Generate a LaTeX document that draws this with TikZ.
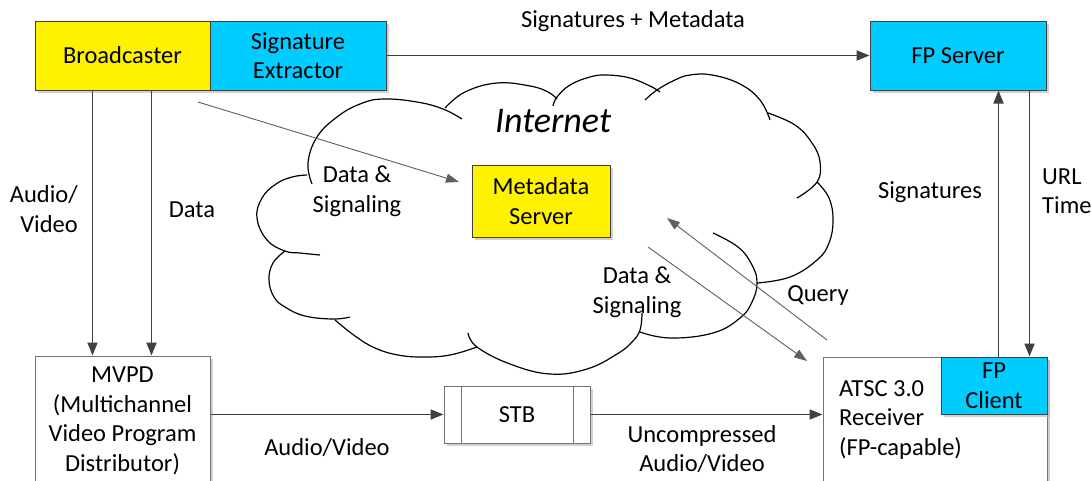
\documentclass[tikz,border=0pt]{standalone}
\usepackage{fontspec}
\setmainfont{Carlito}
\usetikzlibrary{arrows.meta,shadows}
\definecolor{cyanbox}{RGB}{0,204,255}
\definecolor{linegray}{RGB}{64,64,64}
\definecolor{thingray}{RGB}{95,95,95}
\begin{document}
\begin{tikzpicture}[x=1pt,y=-1pt,
  font=\fontsize{24.5}{29.5}\selectfont,
  box/.style={draw=linegray, line width=1pt, inner sep=0pt, align=center,
    drop shadow={shadow xshift=2.5pt,shadow yshift=-2.5pt,fill=black!30,opacity=0.6}},
  wbox/.style={box, draw=black!55, fill=white},
  thickarrow/.style={draw=linegray,line width=1.8pt,-{Triangle[length=13pt,width=10pt]}},
  thinarrow/.style={draw=thingray,line width=0.9pt,-{Triangle[length=13pt,width=9pt]}},
  lbl/.style={inner sep=0pt, align=center},
  cloudline/.style={draw=black,line width=1.2pt},
]
\useasboundingbox (0,0) rectangle (1091,480);
\clip (0,0) rectangle (1091,480);
\fill[white] (0,0) rectangle (1091,480);

% cloud
\begin{scope}[cloudline]
\draw plot[smooth,tension=0.7] coordinates {(320,255) (300,253) (285,251) (267,240) (257,218) (262,198) (276,184) (292,177) (307,175)};
\draw plot[smooth,tension=0.7] coordinates {(312,184) (308,163) (317,137) (337,117) (360,104) (383,99) (417,102) (443,109) (462,119)};
\draw plot[smooth,tension=0.7] coordinates {(445,108) (465,92) (497,83) (530,86) (548,92) (557,99)};
\draw plot[smooth,tension=0.7] coordinates {(553,106) (557,97) (570,85) (590,77) (607,75) (630,78) (650,86) (660,92)};
\draw plot[smooth,tension=0.7] coordinates {(645,100) (657,90) (675,80) (690,75) (712,75) (740,84) (760,100) (770,120)};
\draw plot[smooth,tension=0.7] coordinates {(768,113) (795,125) (812,143) (820,162) (817,182) (797,198)};
\draw plot[smooth,tension=0.7] coordinates {(817,182) (829,198) (833,220) (829,243) (817,260) (790,277) (757,283)};
\draw plot[smooth,tension=0.7] coordinates {(713,233) (738,247) (752,265) (757,283) (752,302) (740,318) (713,333) (670,338) (640,332)};
\draw plot[smooth,tension=0.7] coordinates {(642,313) (640,330) (632,342) (617,354) (587,369) (550,374) (510,364) (477,347) (468,333)};
\draw plot[smooth,tension=0.7] coordinates {(477,347) (450,355) (423,357) (398,355) (375,348) (355,336) (335,320)};
\draw plot[smooth,tension=0.7] coordinates {(285,251) (273,263) (269,280) (274,297) (285,307) (305,316) (333,319) (350,317)};
\end{scope}
\node[lbl,font=\fontsize{36}{40}\selectfont\itshape] (inet) at (553,121) {Internet};

% boxes
\node[box,fill=yellow,minimum width=175pt,minimum height=69pt] (bc) at (122.5,55.5) {Broadcaster};
\node[box,fill=cyanbox,minimum width=176pt,minimum height=69pt] (se) at (298,55.5) {Signature\\Extractor};
\node[box,fill=cyanbox,minimum width=176pt,minimum height=69pt] (fps) at (958,55.5) {FP Server};
\node[box,fill=yellow,minimum width=138pt,minimum height=72pt] (ms) at (541,201) {Metadata\\Server};
\node[wbox,minimum width=175pt,minimum height=130pt] (mvpd) at (122.5,421) {MVPD\\(Multichannel\\Video Program\\Distributor)};
\node[wbox,minimum width=146pt,minimum height=57pt] (stb) at (517,414.5) {STB};
\draw[draw=black!55,line width=1pt] ([xshift=18pt]stb.north west) -- ([xshift=18pt]stb.south west)
  ([xshift=-17pt]stb.north east) -- ([xshift=-17pt]stb.south east);
\node[wbox,minimum width=224pt,minimum height=130pt] (atsc) at (935,422) {};
\node[lbl,anchor=west,align=left] (atsctext) at (839,420) {ATSC 3.0\\Receiver\\(FP-capable)};
\node[box,fill=cyanbox,minimum width=106pt,minimum height=57pt] (fpc) at (994,385.5) {FP\\Client};

% thick connectors
\draw[thickarrow] (se) -- (fps);
\draw[thickarrow] ([xshift=58pt]bc.south west) -- ([xshift=58pt]mvpd.north west);
\draw[thickarrow] ([xshift=117pt]bc.south west) -- ([xshift=117pt]mvpd.north west);
\draw[thickarrow] (mvpd.east |- stb.west) -- (stb.west);
\draw[thickarrow] (stb.east) -- (stb.east -| atsc.west);
\draw[thickarrow] ([xshift=58pt]fpc.north west) -- ([xshift=58pt]fpc.north west |- fps.south);
\draw[thickarrow] ([xshift=-17pt]fps.south east) -- ([xshift=-17pt]fps.south east |- fpc.north);

% thin connectors
\coordinate (d1s) at (198,102);
\coordinate (d1e) at (459,182);
\coordinate (d2s) at (648,247);
\coordinate (d2e) at (807,361);
\coordinate (qs) at (827,340);
\coordinate (qe) at (667,218);
\draw[thinarrow] (d1s) -- (d1e);
\draw[thinarrow] (d2s) -- (d2e);
\draw[thinarrow] (qs) -- (qe);

% labels
\node[lbl] (l1) at (633,21) {Signatures + Metadata};
\node[lbl,align=right,anchor=east] (l2) at (78,209) {Audio/\\Video};
\node[lbl] (l3) at (192,210) {Data};
\node[lbl] (l4) at (930,192) {Signatures};
\node[lbl,align=left,anchor=west] (l5) at (1042,191) {URL\\Time};
\node[lbl] (l6) at (357,191) {Data \&\\Signaling};
\node[lbl] (l7) at (637,292) {Data \&\\Signaling};
\node[lbl] (l8) at (818,296) {Query};
\node[lbl] (l9) at (327,448) {Audio/Video};
\node[lbl] (l10) at (702,449) {Uncompressed\\Audio/Video};
\end{tikzpicture}
\end{document}
